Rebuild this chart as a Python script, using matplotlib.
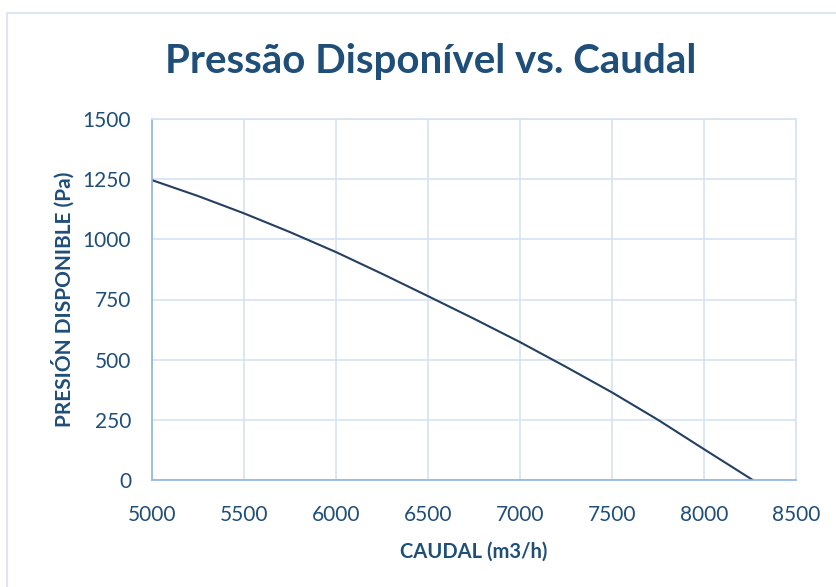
import matplotlib
matplotlib.use('Agg')
import matplotlib.pyplot as plt
from matplotlib.patches import Rectangle

# Data
caudal = [5000, 5250, 5500, 5750, 6000, 6250, 6500, 6750, 7000, 7250, 7500, 7750, 8000, 8265]
presion = [1246, 1180, 1108, 1030, 947, 857, 764, 670, 573, 470, 364, 250, 128, 0]

title = "Pressão Disponível vs. Caudal"
xlabel = "CAUDAL (m3/h)"
ylabel = "PRESIÓN DISPONIBLE (Pa)"

text_col = "#1F4E79"
grid_col = "#D6E3F4"
axis_col = "#8EB4E3"
line_col = "#243F60"

plt.rcParams['font.family'] = ['Lato', 'DejaVu Sans']

fig = plt.figure(figsize=(8.36, 5.87), dpi=100)
# chart frame (cut off on right/bottom like the reference)
fig.patches.append(Rectangle((7/836, -0.1), 1.2, 1 - 13/587 + 0.1,
                             transform=fig.transFigure, fill=False,
                             edgecolor="#D6E3F4", linewidth=1.2))

ax = fig.add_axes([152/836, 1 - 480/587, 644/836, 361/587])
ax.plot(caudal, presion, color=line_col, linewidth=1.5)

ax.set_xlim(5000, 8500)
ax.set_ylim(0, 1500)
ax.set_xticks(range(5000, 8501, 500))
ax.set_yticks(range(0, 1501, 250))
ax.grid(True, color=grid_col, linewidth=1.2)
ax.set_axisbelow(True)
for s in ['top', 'right']:
    ax.spines[s].set_color(grid_col)
    ax.spines[s].set_linewidth(1.2)
for s in ['left', 'bottom']:
    ax.spines[s].set_color(axis_col)
    ax.spines[s].set_linewidth(1.2)
ax.tick_params(length=0, labelsize=15, labelcolor=text_col)
ax.tick_params(axis='x', pad=18)
ax.tick_params(axis='y', pad=15)

ax.set_xlabel(xlabel, fontsize=14.5, fontweight='bold', color=text_col, labelpad=12)
ax.set_ylabel(ylabel, fontsize=15, fontweight='bold', color=text_col, labelpad=6)

fig.text(431/836, 1 - 61/587, title, ha='center', va='center',
         fontsize=29, fontweight='bold', color=text_col)

fig.savefig("out.png", dpi=100)
